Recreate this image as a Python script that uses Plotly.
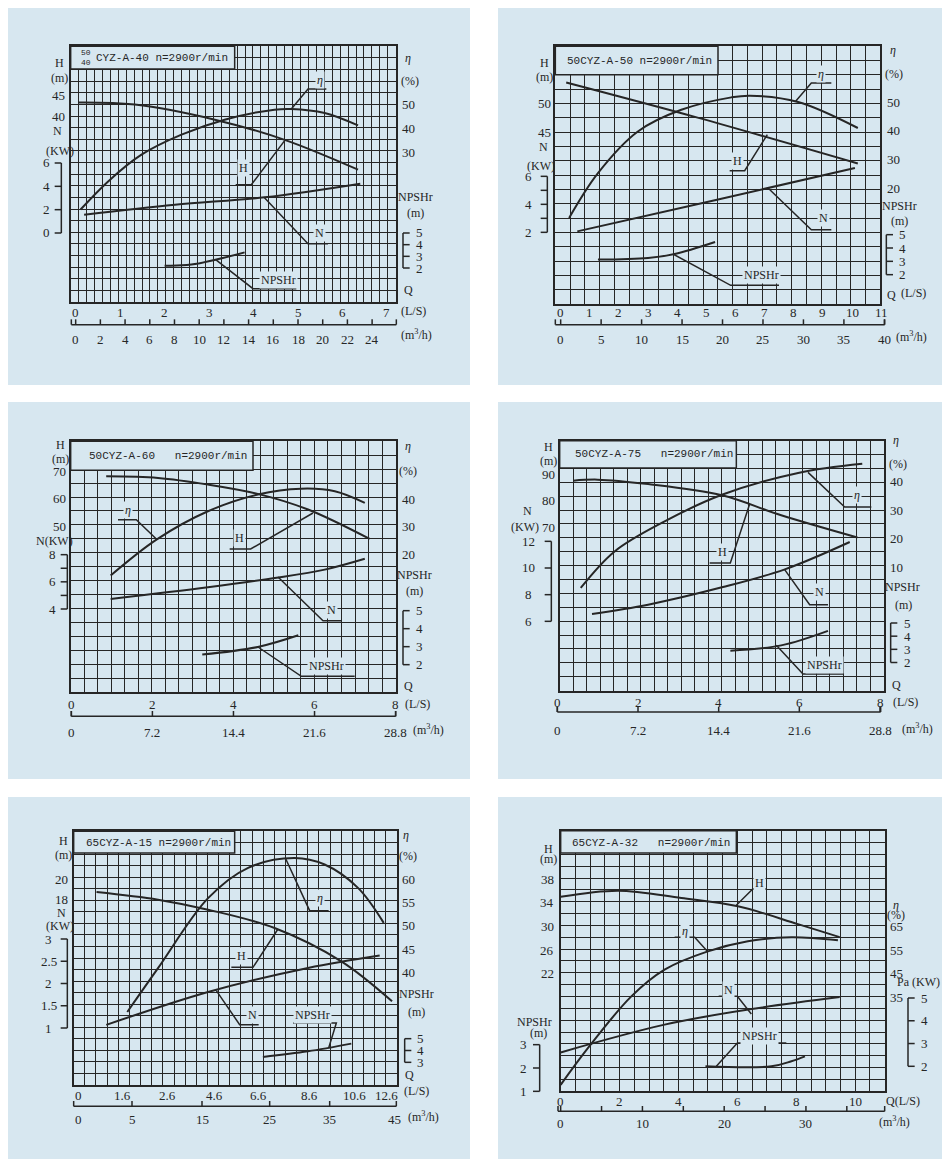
import plotly.graph_objects as go

W, H = 950, 1159
BG = "#d7e7f0"
INK = "#262626"
FONT = "Liberation Serif"
MONO = "Liberation Mono"

# ---------------- data ----------------
# 40CYZ-A-40
P40_LS = [0, 1, 2, 3, 4, 5, 6, 7]
P40_M3H = [0, 2, 4, 6, 8, 10, 12, 14, 16, 18, 20, 22, 24]
P40_H_TICKS = [45, 40]
P40_N_TICKS = [6, 4, 2, 0]
P40_ETA_TICKS = [50, 40, 30]
P40_NPSH_TICKS = [5, 4, 3, 2]
P40_Q_H = [0.07, 1.33, 3.13, 4.7, 6.35]
P40_H = [43.3, 42.8, 39.2, 34.4, 27.3]
P40_Q_ETA = [0.11, 0.73, 1.48, 2.38, 3.35, 4.47, 4.85, 5.6, 6.35]
P40_ETA = [6.0, 17.8, 29.0, 37.4, 43.7, 47.9, 48.2, 46.5, 41.3]
P40_Q_N = [0.19, 2.23, 4.25, 6.4]
P40_N = [1.57, 2.43, 3.06, 4.23]
P40_Q_NPSH = [2.0, 2.6, 3.8]
P40_NPSH = [2.2, 2.29, 3.34]

# 50CYZ-A-50
P50_LS = [0, 1, 2, 3, 4, 5, 6, 7, 8, 9, 10, 11]
P50_M3H = [0, 5, 10, 15, 20, 25, 30, 35, 40]
P50_H_TICKS = [50, 45]
P50_N_TICKS = [6, 4, 2]
P50_ETA_TICKS = [50, 40, 30, 20]
P50_NPSH_TICKS = [5, 4, 3, 2]
P50_Q_H = [0.19, 4.7, 10.2]
P50_H = [53.8, 47.6, 39.5]
P50_Q_ETA = [0.29, 1.28, 2.65, 4.14, 5.86, 6.5, 8.15, 10.2]
P50_ETA = [9.9, 25.4, 39.8, 47.3, 51.6, 52.2, 50.0, 41.0]
P50_Q_N = [0.57, 5.29, 10.1]
P50_N = [2.07, 4.29, 6.6]
P50_Q_NPSH = [1.28, 3.0, 3.91, 5.3]
P50_NPSH = [3.13, 3.25, 3.55, 4.45]

# 50CYZ-A-60
P60_LS = [0, 2, 4, 6, 8]
P60_M3H = [0, 7.2, 14.4, 21.6, 28.8]
P60_H_TICKS = [70, 60, 50]
P60_N_TICKS = [8, 6, 4]
P60_ETA_TICKS = [40, 30, 20]
P60_NPSH_TICKS = [5, 4, 3, 2]
P60_Q_H = [0.86, 2.14, 3.37, 4.6, 5.84, 7.36]
P60_H = [68.2, 67.6, 65.2, 61.8, 56.1, 45.4]
P60_Q_ETA = [0.97, 2.1, 3.37, 4.6, 5.67, 6.5, 7.24]
P60_ETA = [12.5, 25.4, 35.6, 41.6, 43.7, 42.8, 38.6]
P60_Q_N = [0.97, 3.37, 5.02, 6.25, 7.24]
P60_N = [4.74, 5.6, 6.28, 6.9, 7.7]
P60_Q_NPSH = [3.23, 4.6, 5.6]
P60_NPSH = [2.56, 2.98, 3.63]

# 50CYZ-A-75
P75_LS = [0, 2, 4, 6, 8]
P75_M3H = [0, 7.2, 14.4, 21.6, 28.8]
P75_H_TICKS = [90, 80, 70]
P75_N_TICKS = [12, 10, 8, 6]
P75_ETA_TICKS = [40, 30, 20, 10]
P75_NPSH_TICKS = [5, 4, 3, 2]
P75_Q_H = [0.39, 1.0, 2.25, 4.08, 5.55, 7.44]
P75_H = [87.7, 88.1, 86.4, 82.1, 74.5, 66.0]
P75_Q_ETA = [0.58, 1.42, 2.66, 4.08, 5.97, 7.56]
P75_ETA = [2.6, 15.5, 26.1, 35.5, 43.2, 46.4]
P75_Q_N = [0.86, 2.25, 4.08, 5.64, 7.25]
P75_N = [6.55, 7.25, 8.55, 9.9, 11.95]
P75_Q_NPSH = [4.29, 5.55, 6.71]
P75_NPSH = [2.9, 3.3, 4.4]

# 65CYZ-A-15
P15_LS = ["0", "1.6", "2.6", "4.6", "6.6", "8.6", "10.6", "12.6"]
P15_M3H = ["0", "5", "15", "25", "35", "45"]
P15_H_TICKS = [20, 18]
P15_N_TICKS = [3, 2.5, 2, 1.5, 1]
P15_ETA_TICKS = [60, 55, 50, 45, 40]
P15_NPSH_TICKS = [5, 4, 3]
P15_Q_H = [0.05, 2.63, 4.73, 7.52, 10.32, 12.45]
P15_H = [18.74, 18.0, 17.03, 15.26, 12.03, 8.16]
P15_Q_ETA = [1.34, 2.63, 4.73, 6.41, 8.36, 9.62, 11.02, 12.1]
P15_ETA = [31.5, 40.9, 55.9, 62.4, 64.5, 63.1, 58.1, 50.6]
P15_Q_N = [0.46, 4.73, 8.92, 11.93]
P15_N = [1.07, 1.81, 2.35, 2.63]
P15_Q_NPSH = [7.03, 8.92, 10.74]
P15_NPSH = [3.45, 3.93, 4.58]

# 65CYZ-A-32
P32_LS = [0, 2, 4, 6, 8, 10]
P32_M3H = [0, 10, 20, 30]
P32_M3H_MINOR = [0, 5, 10, 15, 20, 25, 30, 35]
P32_H_TICKS = [38, 34, 30, 26, 22]
P32_NPSH_TICKS = [3, 2, 1]
P32_ETA_TICKS = [65, 55, 45, 35]
P32_N_TICKS = [5, 4, 3, 2]
P32_Q_H = [0.0, 1.95, 4.1, 6.02, 8.06, 9.48]
P32_H = [35.0, 36.03, 34.8, 33.4, 30.4, 28.2]
P32_Q_ETA = [0.0, 0.93, 2.4, 3.53, 5.0, 6.36, 7.84, 9.42]
P32_ETA = [-2.0, 13.6, 35.4, 46.7, 54.4, 58.7, 60.4, 59.1]
P32_Q_N = [0.0, 3.53, 6.36, 9.48]
P32_N = [2.61, 3.83, 4.49, 5.04]
P32_Q_NPSH = [4.92, 7.16, 7.84, 8.3]
P32_NPSH = [2.07, 2.07, 2.29, 2.5]

ETA = "<i>η</i>"
M3H = "(m<sup>3</sup>/h)"

# ---------------- panel layout (coords in 3x crop units) ----------------
panels = [
    dict(off=(0, 30), box=(188, 25, 1163, 792), cols=41, rows=22,
         tbox=(188, 25, 680, 93), title="CYZ-A-40 n=2900r/min", txy=(258, 60),
         frac=[("50", 234, 44), ("40", 234, 74)],
         q=(203, 133.4), ls=P40_LS, ls_y=825, m3=P40_M3H, m3t=P40_M3H,
         m3line=(190, 1165, 860), m3_y=905,
         scales=dict(H=(45, 172, -12.6), N=(6, 375, -35), E=(50, 200, -7.15), P=(5, 585, -35)),
         axes=[("H", P40_H_TICKS, 150, None), ("N", P40_N_TICKS, 115, (160, -1, 2)),
               ("E", P40_ETA_TICKS, 1200, None), ("P", P40_NPSH_TICKS, 1235, (1185, 1, 1))],
         texts=[("H", 155, 75), ("(m)", 155, 120), ("N", 148, 280), ("(KW)", 155, 338),
                (ETA, 1200, 60), ("(%)", 1205, 130), ("NPSHr", 1222, 478), ("(m)", 1222, 525),
                ("Q", 1200, 755), ("(L/S)", 1215, 820), (M3H, 1225, 888)],
         curves=[(P40_Q_H, P40_H, "H"), (P40_Q_ETA, P40_ETA, "E"),
                 (P40_Q_N, P40_N, "N"), (P40_Q_NPSH, P40_NPSH, "P")],
         calls=[([(848, 215), (900, 153), (955, 153)], ETA, 935, 125),
                ([(830, 308), (730, 440), (683, 440)], "H", 705, 390),
                ([(768, 478), (900, 617), (960, 617)], "N", 935, 585),
                ([(623, 665), (735, 752), (865, 752)], "NPSHr", 812, 725)]),
    dict(off=(490, 30), box=(172, 25, 1147, 798), cols=22, rows=18,
         tbox=(172, 25, 660, 110), title="50CYZ-A-50 n=2900r/min", txy=(200, 70), frac=[],
         q=(188, 87.4), ls=P50_LS, ls_y=825, m3=P50_M3H, m3t=P50_M3H,
         m3line=(172, 1160, 860), m3_y=905,
         scales=dict(H=(50, 198, -17), N=(6, 415, -42), E=(50, 192, -8.67), P=(5, 590, -40)),
         axes=[("H", P50_H_TICKS, 138, None), ("N", P50_N_TICKS, 92, (148, -1, 1)),
               ("E", P50_ETA_TICKS, 1185, None), ("P", P50_NPSH_TICKS, 1213, (1165, 1, 1))],
         texts=[("H", 140, 75), ("(m)", 140, 118), ("N", 135, 328), ("(KW)", 128, 383),
                (ETA, 1185, 35), ("(%)", 1188, 108), ("NPSHr", 1205, 505), ("(m)", 1205, 550),
                ("Q", 1180, 772), ("(L/S)", 1245, 765), (M3H, 1240, 895)],
         curves=[(P50_Q_H, P50_H, "H"), (P50_Q_ETA, P50_ETA, "E"),
                 (P50_Q_N, P50_N, "N"), (P50_Q_NPSH, P50_NPSH, "P")],
         calls=[([(893, 190), (940, 135), (1000, 135)], ETA, 968, 108),
                ([(808, 290), (740, 398), (695, 398)], "H", 718, 370),
                ([(810, 450), (940, 575), (1000, 575)], "N", 975, 540),
                ([(525, 648), (698, 742), (843, 742)], "NPSHr", 790, 712)]),
    dict(off=(0, 420), box=(188, 40, 1163, 792), cols=24, rows=18,
         tbox=(188, 40, 735, 127), title="50CYZ-A-60   n=2900r/min", txy=(238, 85), frac=[],
         q=(190, 121.6), ls=P60_LS, ls_y=828, m3=P60_M3H, m3t=P60_M3H,
         m3line=(190, 1163, 865), m3_y=912,
         scales=dict(H=(70, 130, -8.25), N=(8, 380, -40.75), E=(40, 213, -8.35), P=(5, 548, -54)),
         axes=[("H", P60_H_TICKS, 155, None), ("N", P60_N_TICKS, 133, (178, -1, 1)),
               ("E", P60_ETA_TICKS, 1200, None), ("P", P60_NPSH_TICKS, 1235, (1185, 1, 1))],
         texts=[("H", 158, 50), ("(m)", 158, 92), ("N(KW)", 138, 340),
                (ETA, 1200, 55), ("(%)", 1200, 130), ("NPSHr", 1218, 440), ("(m)", 1220, 490),
                ("Q", 1200, 775), ("(L/S)", 1228, 828), (M3H, 1262, 905)],
         curves=[(P60_Q_H, P60_H, "H"), (P60_Q_ETA, P60_ETA, "E"),
                 (P60_Q_N, P60_N, "N"), (P60_Q_NPSH, P60_NPSH, "P")],
         calls=[([(445, 333), (385, 275), (330, 275)], ETA, 360, 245),
                ([(915, 255), (728, 363), (665, 363)], "H", 695, 330),
                ([(810, 447), (945, 578), (1000, 578)], "N", 970, 547),
                ([(750, 657), (880, 745), (1040, 745)], "NPSHr", 955, 715)]),
    dict(off=(490, 420), box=(185, 38, 1158, 788), cols=24, rows=18,
         tbox=(185, 38, 715, 120), title="50CYZ-A-75   n=2900r/min", txy=(225, 78), frac=[],
         q=(178, 121), ls=P75_LS, ls_y=822, m3=P75_M3H, m3t=P75_M3H,
         m3line=(178, 1148, 852), m3_y=908,
         scales=dict(H=(90, 140, -7.85), N=(12, 340, -40), E=(40, 162, -8.5), P=(5, 585, -39.5)),
         axes=[("H", P75_H_TICKS, 150, None), ("N", P75_N_TICKS, 92, (160, -1, 2)),
               ("E", P75_ETA_TICKS, 1195, None), ("P", P75_NPSH_TICKS, 1228, (1178, 1, 1))],
         texts=[("H", 152, 58), ("(m)", 152, 100), ("N", 88, 250), ("(KW)", 80, 298),
                (ETA, 1195, 35), ("(%)", 1200, 108), ("NPSHr", 1213, 478), ("(m)", 1215, 530),
                ("Q", 1195, 772), ("(L/S)", 1222, 822), (M3H, 1258, 900)],
         curves=[(P75_Q_H, P75_H, "H"), (P75_Q_ETA, P75_ETA, "E"),
                 (P75_Q_N, P75_N, "N"), (P75_Q_NPSH, P75_NPSH, "P")],
         calls=[([(930, 133), (1040, 237), (1120, 237)], ETA, 1078, 200),
                ([(755, 228), (697, 405), (635, 405)], "H", 672, 372),
                ([(860, 425), (935, 530), (990, 530)], "N", 965, 493),
                ([(835, 652), (915, 738), (1035, 738)], "NPSHr", 980, 712)]),
    dict(off=(0, 810), box=(197, 40, 1167, 800), cols=29, rows=22,
         tbox=(197, 40, 680, 105), title="65CYZ-A-15 n=2900r/min", txy=(228, 75), frac=[],
         q=(262, 71.5), ls=P15_LS, ls_y=833, ls_x=[210, 343, 477, 618, 753, 905, 1040, 1135],
         m3=P15_M3H, m3_x=[210, 372, 582, 785, 965, 1160], m3t_x=[372, 582, 785, 965, 1165],
         m3line=(197, 1165, 865), m3_y=905,
         scales=dict(H=(20, 183, -31), N=(3, 363, -133.5), E=(60, 183, -14), P=(5, 662, -35.5)),
         axes=[("H", P15_H_TICKS, 160, None), ("N", P15_N_TICKS, 122, (178, -1, 0.5)),
               ("E", P15_ETA_TICKS, 1200, None), ("P", P15_NPSH_TICKS, 1238, (1190, 1, 1))],
         texts=[("H", 165, 70), ("(m)", 165, 112), ("N", 160, 285), ("(KW)", 155, 325),
                (ETA, 1195, 50), ("(%)", 1200, 115), ("NPSHr", 1225, 528), ("(m)", 1225, 583),
                ("Q", 1205, 770), ("(L/S)", 1225, 820), (M3H, 1245, 895)],
         curves=[(P15_Q_H, P15_H, "H"), (P15_Q_ETA, P15_ETA, "E"),
                 (P15_Q_N, P15_N, "N"), (P15_Q_NPSH, P15_NPSH, "P")],
         calls=[([(832, 120), (905, 278), (962, 278)], ETA, 935, 240),
                ([(810, 333), (735, 448), (670, 448)], "H", 700, 415),
                ([(625, 518), (695, 620), (752, 620)], "N", 733, 590),
                ([(962, 690), (985, 615), (855, 615)], "NPSHr", 912, 592)]),
    dict(off=(490, 810), box=(188, 38, 1160, 820), cols=22, rows=22,
         tbox=(188, 38, 715, 105), title="65CYZ-A-32   n=2900r/min", txy=(215, 75), frac=[],
         q=(188, 88.3), ls=P32_LS, ls_y=850, m3=P32_M3H, m3t=P32_M3H_MINOR,
         m3line=(180, 1160, 880), m3_y=915,
         scales=dict(H=(38, 183, -17.8), P=(3, 680, -70), E=(65, 325, -7.1), N=(5, 540, -68.3)),
         axes=[("H", P32_H_TICKS, 147, None), ("P", P32_NPSH_TICKS, 75, (125, -1, 1)),
               ("E", P32_ETA_TICKS, 1195, None), ("N", P32_N_TICKS, 1280, (1230, 1, 1))],
         texts=[("H", 150, 92), ("(m)", 150, 122), ("NPSHr", 110, 612), ("(m)", 120, 645),
                (ETA, 1195, 262), ("(%)", 1195, 290), ("Pa (KW)", 1262, 492),
                ("Q(L/S)", 1215, 848), (M3H, 1190, 910)],
         curves=[(P32_Q_H, P32_H, "H"), (P32_Q_ETA, P32_ETA, "E"),
                 (P32_Q_N, P32_N, "N"), (P32_Q_NPSH, P32_NPSH, "P")],
         calls=[([(715, 262), (765, 212), (805, 212)], "H", 785, 195),
                ([(628, 400), (590, 358), (530, 358)], ETA, 560, 338),
                ([(760, 588), (718, 535), (662, 535)], "N", 690, 515),
                ([(655, 745), (718, 675), (865, 675)], "NPSHr", 785, 655)]),
]

BACKS = [(0, 0, 462, 377), (490, 0, 950, 377), (0, 394, 462, 771),
         (490, 394, 950, 771), (0, 789, 462, 1159), (490, 789, 950, 1159)]

fig = go.Figure()
shapes, annos = [], []

for b in BACKS:
    shapes.append(dict(type="rect", xref="paper", yref="paper", layer="below",
                       x0=b[0] / W, x1=b[2] / W, y0=1 - b[1] / H, y1=1 - b[3] / H,
                       fillcolor=BG, line=dict(width=0)))


def text(t, x, y, size=13, fam=FONT, xa="center", bg=None):
    a = dict(text=t, x=x, y=y, xref="paper", yref="paper", showarrow=False,
             xanchor=xa, yanchor="middle", font=dict(family=fam, size=size, color=INK))
    if bg:
        a.update(bgcolor=bg, borderpad=1)
    annos.append(a)


for i, p in enumerate(panels, start=1):
    ox, oy = p["off"]
    fx = lambda xz, ox=ox: (ox + xz / 3) / W
    fy = lambda yz, oy=oy: 1 - (oy + yz / 3) / H
    qa, qb = p["q"]
    qx = lambda q, qa=qa, qb=qb: qa + q * qb
    sc = p["scales"]
    cal = lambda k, v, sc=sc: sc[k][1] + (v - sc[k][0]) * sc[k][2]

    l, t, r, bt = p["box"]
    qL, qR = (l - qa) / qb, (r - qa) / qb
    sfx = "" if i == 1 else str(i)
    fig.layout["xaxis" + sfx] = dict(
        domain=[fx(l), fx(r)], range=[qL, qR], tick0=qL, dtick=(qR - qL) / p["cols"],
        showgrid=True, gridcolor=INK, gridwidth=1, showticklabels=False, ticks="",
        zeroline=False, showline=True, mirror=True, linecolor=INK, linewidth=2,
        anchor="y" + sfx, fixedrange=True)
    fig.layout["yaxis" + sfx] = dict(
        domain=[fy(bt), fy(t)], range=[bt, t], tick0=t, dtick=(bt - t) / p["rows"],
        showgrid=True, gridcolor=INK, gridwidth=1, showticklabels=False, ticks="",
        zeroline=False, showline=True, mirror=True, linecolor=INK, linewidth=2,
        anchor="x" + sfx, fixedrange=True)

    # title box
    a, b_, c, d = p["tbox"]
    shapes.append(dict(type="rect", xref="paper", yref="paper", x0=fx(a), x1=fx(c),
                       y0=fy(d), y1=fy(b_), fillcolor=BG, line=dict(color=INK, width=1.5)))
    text(p["title"], fx(p["txy"][0]), fy(p["txy"][1]), 11, MONO, "left")
    for s, xx, yy in p["frac"]:
        text(s, fx(xx), fy(yy), 8, MONO)

    # curves
    for qs, vs, k in p["curves"]:
        fig.add_trace(go.Scatter(x=qs, y=[cal(k, v) for v in vs], mode="lines",
                                 line=dict(color=INK, width=2, shape="spline", smoothing=1.0),
                                 xaxis="x" + sfx, yaxis="y" + sfx, hoverinfo="skip",
                                 showlegend=False))

    # Q (L/S) labels
    lsx = p.get("ls_x") or [qx(v) for v in p["ls"]]
    for v, xx in zip(p["ls"], lsx):
        text(str(v), fx(xx), fy(p["ls_y"]))
    # m3/h axis
    x0, x1, yl = p["m3line"]
    shapes.append(dict(type="line", xref="paper", yref="paper", x0=fx(x0), x1=fx(x1),
                       y0=fy(yl), y1=fy(yl), line=dict(color=INK, width=1.5)))
    m3x = p.get("m3_x") or [qx(float(v) / 3.6) for v in p["m3"]]
    for v, xx in zip(p["m3"], m3x):
        text(str(v), fx(xx), fy(p["m3_y"]))
    tx = p.get("m3t_x") or [qx(float(v) / 3.6) for v in p["m3t"]] + [x1]
    for xx in tx + [x0]:
        shapes.append(dict(type="line", xref="paper", yref="paper", x0=fx(xx), x1=fx(xx),
                           y0=fy(yl), y1=fy(yl - 16), line=dict(color=INK, width=1.5)))

    # value scales
    for k, vals, lx, br in p["axes"]:
        for v in vals:
            text(f"{v:g}", fx(lx), fy(cal(k, v)))
        if br:
            bx, dirn, step = br
            top, bot = max(vals), min(vals)
            shapes.append(dict(type="line", xref="paper", yref="paper", x0=fx(bx), x1=fx(bx),
                               y0=fy(cal(k, top)), y1=fy(cal(k, bot)),
                               line=dict(color=INK, width=1.5)))
            v = top
            while v >= bot - 1e-9:
                shapes.append(dict(type="line", xref="paper", yref="paper", x0=fx(bx),
                                   x1=fx(bx + dirn * 20), y0=fy(cal(k, v)), y1=fy(cal(k, v)),
                                   line=dict(color=INK, width=1.5)))
                v -= step

    for s, xx, yy in p["texts"]:
        text(s, fx(xx), fy(yy), 12)

    # curve callouts
    for pts, lab, lx, ly in p["calls"]:
        path = "M " + " L ".join(f"{fx(u):.5f},{fy(w):.5f}" for u, w in pts)
        shapes.append(dict(type="path", xref="paper", yref="paper", path=path,
                           line=dict(color=INK, width=1.5)))
        text(lab, fx(lx), fy(ly), 12, bg=BG)

fig.update_layout(width=W, height=H, margin=dict(l=0, r=0, t=0, b=0),
                  paper_bgcolor="white", plot_bgcolor="rgba(0,0,0,0)",
                  shapes=shapes, annotations=annos, showlegend=False)
fig.write_html("out.html")
